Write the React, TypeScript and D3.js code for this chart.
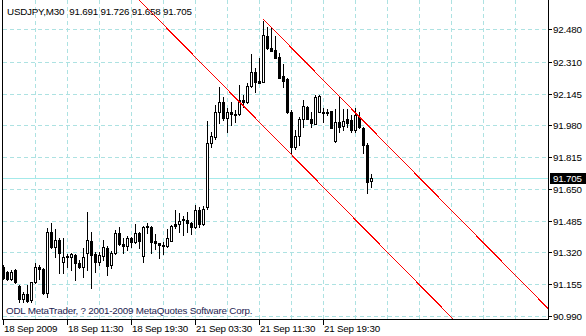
import React from 'react';
import * as d3 from 'd3';

const symbol = 'USDJPY,M30';
const copyright = 'ODL MetaTrader, ? 2001-2009 MetaQuotes Software Corp.';

const opens = [
  91.246, 91.217, 91.181, 91.229, 91.146, 91.077, 91.104, 91.073, 91.168, 91.243,
  91.234, 91.111, 91.424, 91.347, 91.385, 91.269, 91.299, 91.295, 91.307, 91.267,
  91.243, 91.315, 91.379, 91.310, 91.269, 91.303, 91.341, 91.255, 91.316, 91.419,
  91.364, 91.355, 91.396, 91.373, 91.419, 91.303, 91.457, 91.454, 91.379, 91.367,
  91.359, 91.353, 91.381, 91.468, 91.466, 91.492, 91.488, 91.471, 91.454, 91.540,
  91.466, 91.554, 91.887, 91.918, 92.048, 92.099, 92.016, 92.048, 92.039, 92.037,
  92.111, 92.099, 92.184, 92.258, 92.210, 92.206, 92.445, 92.383, 92.371, 92.336,
  92.236, 92.219, 92.051, 91.869, 91.924, 92.011, 92.077, 92.013, 91.987, 92.051,
  92.051, 92.042, 92.054, 91.900, 91.999, 91.976, 92.011, 92.008, 91.956, 92.022,
  91.964, 91.878, 91.691,
];
const highs = [
  91.255, 91.224, 91.229, 91.232, 91.151, 91.116, 91.151, 91.168, 91.267, 91.255,
  91.238, 91.445, 91.471, 91.440, 91.396, 91.393, 91.310, 91.319, 91.310, 91.279,
  91.341, 91.528, 91.428, 91.324, 91.324, 91.384, 91.353, 91.327, 91.436, 91.454,
  91.393, 91.405, 91.402, 91.466, 91.428, 91.457, 91.474, 91.457, 91.416, 91.371,
  91.376, 91.440, 91.462, 91.540, 91.526, 91.509, 91.531, 91.478, 91.566, 91.557,
  91.561, 92.002, 91.947, 92.085, 92.180, 92.129, 92.071, 92.099, 92.059, 92.189,
  92.137, 92.198, 92.349, 92.279, 92.328, 92.523, 92.492, 92.484, 92.445, 92.354,
  92.297, 92.224, 92.059, 91.956, 92.025, 92.111, 92.080, 92.048, 92.137, 92.137,
  92.068, 92.065, 92.056, 92.063, 92.125, 92.063, 92.063, 92.033, 92.068, 92.051,
  91.973, 91.887, 91.726,
];
const lows = [
  91.182, 91.177, 91.177, 91.163, 91.064, 91.064, 91.064, 91.064, 91.160, 91.181,
  91.104, 91.090, 91.341, 91.298, 91.212, 91.212, 91.246, 91.229, 91.177, 91.238,
  91.194, 91.229, 91.137, 91.220, 91.255, 91.281, 91.203, 91.239, 91.312, 91.359,
  91.319, 91.333, 91.350, 91.367, 91.341, 91.272, 91.419, 91.316, 91.336, 91.290,
  91.312, 91.350, 91.379, 91.445, 91.428, 91.410, 91.428, 91.414, 91.449, 91.454,
  91.462, 91.545, 91.869, 91.909, 91.990, 92.008, 91.947, 91.982, 91.999, 92.033,
  92.077, 92.094, 92.180, 92.154, 92.198, 92.203, 92.375, 92.366, 92.328, 92.224,
  92.180, 92.042, 91.836, 91.857, 91.878, 91.973, 92.011, 91.973, 91.985, 92.048,
  91.999, 92.033, 91.964, 91.895, 91.947, 91.956, 91.973, 91.947, 91.947, 91.964,
  91.835, 91.630, 91.658,
];
const closes = [
  91.186, 91.181, 91.220, 91.168, 91.077, 91.104, 91.069, 91.165, 91.243, 91.232,
  91.108, 91.424, 91.347, 91.384, 91.315, 91.298, 91.297, 91.310, 91.264, 91.243,
  91.298, 91.385, 91.307, 91.272, 91.307, 91.347, 91.251, 91.316, 91.419, 91.362,
  91.355, 91.393, 91.373, 91.419, 91.381, 91.454, 91.451, 91.376, 91.367, 91.357,
  91.353, 91.396, 91.459, 91.459, 91.485, 91.488, 91.471, 91.454, 91.540, 91.466,
  91.547, 91.887, 91.924, 92.048, 92.099, 92.016, 92.051, 92.037, 92.033, 92.111,
  92.103, 92.184, 92.255, 92.206, 92.201, 92.449, 92.380, 92.367, 92.331, 92.227,
  92.212, 92.048, 91.869, 91.924, 92.011, 92.080, 92.013, 91.990, 92.129, 92.134,
  92.046, 92.051, 91.968, 91.999, 91.973, 92.004, 91.994, 91.956, 92.033, 91.973,
  91.878, 91.687, 91.705,
];

const priceTicks = [92.48, 92.31, 92.145, 91.98, 91.815, 91.65, 91.485, 91.32, 91.155, 90.99];
const timeLabels = ['18 Sep 2009', '18 Sep 11:30', '18 Sep 19:30', '21 Sep 03:30', '21 Sep 11:30', '21 Sep 19:30'];
const timeLabelBars = [0, 16, 32, 48, 64, 80];
const gridBars = [8, 16, 24, 32, 40, 48, 56, 64, 72, 80, 88, 96, 104, 112, 120, 128];

const bidPrice = 91.705;
// channel: upper ray from the peak bar, lower line through a second anchor, same slope (price per bar)
const channelUpperBar = 65;
const channelUpperPrice = 92.53;
const channelLowerBar = 72;
const channelLowerPrice = 91.827;
const channelSlope = -0.0211;

const W = 586;
const H = 336;
const LEFT = 2;
const RIGHT = 548;
const BOTTOM = 319;

const FONT = "'Liberation Sans', Arial, sans-serif";
const FS = 9.8;
const LS = -0.2;
const GRID = '#ade2e2';

export default function App() {
  const x = d3.scaleLinear().domain([0, 100]).range([3.5, 403.5]);
  const y = d3.scaleLinear().domain([90.99, 92.48]).range([316, 29]);
  const barAt = d3.scaleLinear().domain([3.5, 403.5]).range([0, 100]);
  const lastBarRight = barAt(RIGHT + 10);

  const candles = opens.map((o, i) => {
    const c = closes[i];
    const cx = Math.floor(x(i));
    const yh = Math.round(y(highs[i]));
    const yl = Math.round(y(lows[i]));
    const yo = Math.round(y(o));
    const yc = Math.round(y(c));
    const top = Math.min(yo, yc);
    const bot = Math.max(yo, yc);
    const bull = c >= o;
    return (
      <g key={i}>
        <rect x={cx} y={yh} width={1} height={yl - yh + 1} fill="#000" />
        {bull ? (
          <rect x={cx - 0.5} y={top + 0.5} width={2} height={Math.max(bot - top, 1)} fill="#fff" stroke="#000" strokeWidth={1} />
        ) : (
          <rect x={cx - 1} y={top} width={3} height={bot - top + 1} fill="#000" />
        )}
      </g>
    );
  });

  const upperEnd = lastBarRight;
  const upper = {
    x1: x(channelUpperBar), y1: y(channelUpperPrice),
    x2: x(upperEnd), y2: y(channelUpperPrice + channelSlope * (upperEnd - channelUpperBar)),
  };
  const lower = {
    x1: x(0), y1: y(channelLowerPrice + channelSlope * (0 - channelLowerBar)),
    x2: x(upperEnd), y2: y(channelLowerPrice + channelSlope * (upperEnd - channelLowerBar)),
  };

  const bidY = Math.round(y(bidPrice));
  const lastI = opens.length - 1;
  const header = `${symbol}  ${opens[lastI].toFixed(3)} ${highs[lastI].toFixed(3)} ${lows[lastI].toFixed(3)} ${closes[lastI].toFixed(3)}`;

  return (
    <svg width={W} height={H} style={{ position: 'absolute', left: 0, top: 0, background: '#fff' }} shapeRendering="crispEdges">
      <defs>
        <clipPath id="plot">
          <rect x={LEFT + 1} y={0} width={RIGHT - LEFT - 1} height={BOTTOM} />
        </clipPath>
      </defs>
      <rect x={0} y={0} width={W} height={H} fill="#fff" />
      {/* grid */}
      {priceTicks.map((t) => {
        const yy = Math.round(y(t)) + 0.5;
        return <line key={'h' + t} x1={LEFT + 1} x2={RIGHT} y1={yy} y2={yy} stroke={GRID} strokeDasharray="4,3" />;
      })}
      {gridBars.map((b) => {
        const xx = Math.floor(x(b)) + 0.5;
        return <line key={'v' + b} x1={xx} x2={xx} y1={0} y2={BOTTOM} stroke={GRID} strokeDasharray="4,3" />;
      })}
      {/* bid line */}
      <line x1={LEFT + 1} x2={RIGHT} y1={bidY + 0.5} y2={bidY + 0.5} stroke="#a4eaea" />
      {/* texts inside */}
      <text x={7} y={15} fontFamily={FONT} fontSize={FS} letterSpacing={LS} fill="#000" style={{ whiteSpace: 'pre' }}>{header}</text>
      <text x={6} y={314} fontFamily={FONT} fontSize={FS} letterSpacing={LS} fill="#1c1c50">{copyright}</text>
      {/* candles */}
      <g>{candles}</g>
      {/* channel */}
      <g clipPath="url(#plot)">
        <line {...upper} stroke="#ff0000" strokeWidth={1} />
        <line {...lower} stroke="#ff0000" strokeWidth={1} />
      </g>
      {/* frame */}
      <rect x={LEFT} y={0} width={1} height={BOTTOM + 1} fill="#000" />
      <rect x={LEFT} y={BOTTOM} width={RIGHT - LEFT + 1} height={1} fill="#000" />
      <rect x={RIGHT} y={0} width={1} height={BOTTOM + 1} fill="#000" />
      {/* price axis */}
      {priceTicks.map((t) => {
        const yy = Math.round(y(t));
        return (
          <g key={'p' + t}>
            <rect x={RIGHT + 1} y={yy} width={3} height={1} fill="#000" />
            <text x={553} y={yy + 4} fontFamily={FONT} fontSize={FS} letterSpacing={LS} fill="#000">{t.toFixed(3)}</text>
          </g>
        );
      })}
      <rect x={RIGHT + 2} y={bidY - 5} width={W - RIGHT - 2} height={11} fill="#000" />
      <text x={553} y={bidY + 4} fontFamily={FONT} fontSize={FS} letterSpacing={LS} fill="#fff">{bidPrice.toFixed(3)}</text>
      {/* time axis */}
      {timeLabelBars.map((b, i) => {
        const xx = Math.floor(x(b));
        return (
          <g key={'t' + b}>
            <rect x={xx} y={BOTTOM + 1} width={1} height={5} fill="#000" />
            <text x={xx + 1} y={332} fontFamily={FONT} fontSize={FS} letterSpacing={LS} fill="#000">{timeLabels[i]}</text>
          </g>
        );
      })}
    </svg>
  );
}
